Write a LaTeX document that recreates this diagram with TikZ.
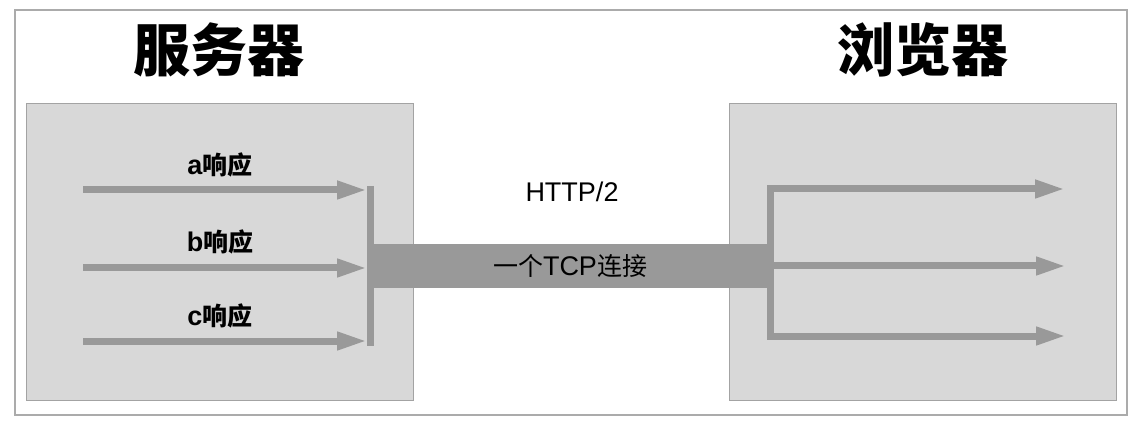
\documentclass[tikz,border=0pt]{standalone}
\usepackage{fontspec}
\setmainfont{Noto Sans CJK SC}
\newfontfamily\latin{Liberation Sans}
\newcommand\lat[1]{{\latin\fontsize{27}{30}\selectfont #1}}
\usetikzlibrary{positioning}
\usetikzlibrary{calc}
\usetikzlibrary{arrows.meta}
\definecolor{framegray}{HTML}{ABABAB}
\definecolor{boxfill}{HTML}{D8D8D8}
\definecolor{boxline}{HTML}{A3A3A3}
\definecolor{flowgray}{HTML}{999999}
\tikzset{
tip/.tip={Triangle[length=30pt,width=17pt]},
box/.style={draw=boxline,fill=boxfill,line width=1pt,minimum width=387pt,minimum height=296pt,inner sep=0pt},
title/.style={font=\fontsize{57}{60}\selectfont\bfseries},
lbl/.style={font=\fontsize{25}{28}\selectfont,inner sep=0pt},
blbl/.style={lbl,font=\fontsize{25}{28}\selectfont\bfseries},
flow/.style={draw=flowgray,line width=7pt,-tip},
fork/.style={draw=flowgray,line width=7pt,tip-tip,line join=miter},
bar/.style={draw=flowgray,line width=7pt}
}

\begin{document}
\begin{tikzpicture}[x=1pt,y=-1pt]
\useasboundingbox[fill=white](0,0) rectangle (1148,430);
\draw[framegray,line width=1.3pt](15,10) rectangle (1127,415);

\node[title](servertitle) at (219,50){服务器};
\node[title](browsertitle) at (923,50){浏览器};
\node[box](server) at (219.5,252){};
\node[box](browser) at (922.5,252){};
\node[fill=flowgray,minimum width=400pt,minimum height=44pt,inner sep=0pt,lbl](conn) at (570,266){一个\lat{TCP}连接};
\node[lbl](http) at (572,192){\lat{HTTP/2}};

\node[blbl](la) at (220,165){\lat{\bfseries a}响应};
\node[blbl](lb) at (220,242){\lat{\bfseries b}响应};
\node[blbl](lc) at (220,316){\lat{\bfseries c}响应};

\coordinate(ina) at (83,190);
\coordinate(inb) at (83,268);
\coordinate(inc) at (83,341);
\coordinate(ea) at (367,190);
\coordinate(eb) at (367,268);
\coordinate(ec) at (367,341);
\coordinate(bartop) at (370,186);
\coordinate(barbot) at (370,346);

\coordinate(rtop) at (770,189);
\coordinate(rbot) at (770,336);
\coordinate(rmid) at (770,266);
\coordinate(outa) at (1065,189);
\coordinate(outb) at (1066,266);
\coordinate(outc) at (1066,336);

\draw[bar](bartop)--(barbot);
\path
(ina) edge[flow] (ea)
(inb) edge[flow] (eb)
(inc) edge[flow] (ec)
(rmid) edge[flow] (outb);
\draw[fork](outa)--(rtop)--(rbot)--(outc);
\end{tikzpicture}
\end{document}
